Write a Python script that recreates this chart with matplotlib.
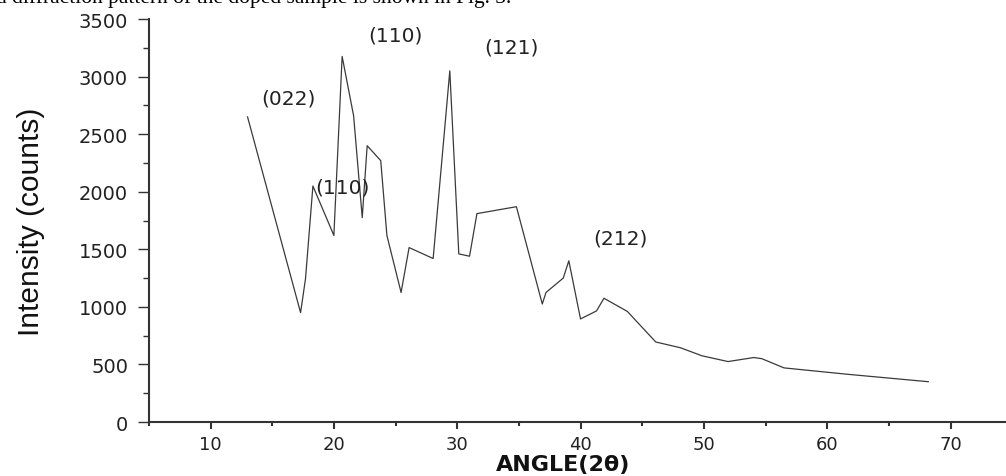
import matplotlib
matplotlib.use('Agg')
import matplotlib.pyplot as plt
from matplotlib.ticker import MultipleLocator
from matplotlib import font_manager

# ********** data ********************************************
angle = [13.0, 17.3, 17.7, 18.3, 20.0, 20.67, 21.6, 22.3, 22.7, 23.8,
         24.3, 25.45, 26.1, 28.05, 29.4, 30.13, 31.0, 31.6, 34.8, 36.9,
         37.2, 38.6, 39.05, 40.0, 41.3, 41.9, 43.8, 46.1, 48.1, 49.85,
         51.96, 54.05, 54.7, 56.5, 61.6, 68.2]
intensity = [2650, 950, 1245, 2050, 1620, 3175, 2660, 1775, 2400, 2270,
             1620, 1125, 1515, 1420, 3050, 1460, 1440, 1810, 1870, 1025,
             1125, 1250, 1400, 895, 965, 1075, 960, 695, 645, 575,
             525, 560, 550, 470, 415, 350]

peak_labels = ['(022)', '(110)', '(110)', '(121)', '(212)']
peak_x = [16.3, 20.67, 25.0, 34.4, 43.2]
peak_y = [2814, 2045, 3361, 3261, 1598]
# ************************************************************


def main():
    fig = plt.figure(figsize=(10.06, 4.77), dpi=100)
    ax = fig.add_axes([0.148, 0.1132, 0.852, 0.8448])

    ax.plot(angle, intensity, color='#3a3a3a', lw=0.9)

    ax.set_xlim(5, 74.5)
    ax.set_ylim(0, 3500)
    ax.xaxis.set_major_locator(MultipleLocator(10))
    ax.xaxis.set_minor_locator(MultipleLocator(5))
    ax.yaxis.set_major_locator(MultipleLocator(500))
    ax.yaxis.set_minor_locator(MultipleLocator(250))

    for s in ['top', 'right']:
        ax.spines[s].set_visible(False)
    for s in ['left', 'bottom']:
        ax.spines[s].set_color('#333333')
        ax.spines[s].set_linewidth(1.5)

    ax.tick_params(axis='y', which='major', length=8, width=1, pad=7,
                   labelsize=14, colors='#333333', labelcolor='#222222')
    ax.tick_params(axis='y', which='minor', length=4, width=1, colors='#333333')
    ax.tick_params(axis='x', which='major', length=5, width=1.5, pad=4,
                   labelsize=13, colors='#333333', labelcolor='#222222')
    ax.tick_params(axis='x', which='minor', length=3, width=1.5, colors='#333333')

    for lab, x, y in zip(peak_labels, peak_x, peak_y):
        ax.text(x, y, lab, ha='center', va='center', fontsize=14.5, color='#222222')

    # condensed face for the y label if one is installed
    names = {f.name for f in font_manager.fontManager.ttflist}
    if 'Liberation Sans Narrow' in names:
        ylab_font = dict(family='Liberation Sans Narrow', fontsize=25)
    else:
        ylab_font = dict(family='Liberation Sans', fontsize=21.5)
    fig.text(31.5 / 1006, 1 - 222 / 477, 'Intensity (counts)', rotation=90,
             ha='center', va='center', color='#111111', **ylab_font)
    fig.text(563 / 1006, 1 - 465 / 477, 'ANGLE(2θ)', ha='center', va='center',
             fontsize=16, fontweight='bold', color='#111111')

    # clipped line of the surrounding page text
    fig.text(-0.004, 1 - 3 / 477, 'd diffraction pattern of the doped sample is shown in Fig. 3.',
             ha='left', va='baseline', fontsize=15.5, family='Liberation Serif', color='black')

    fig.savefig('out.png', dpi=100)


if __name__ == '__main__':
    main()
